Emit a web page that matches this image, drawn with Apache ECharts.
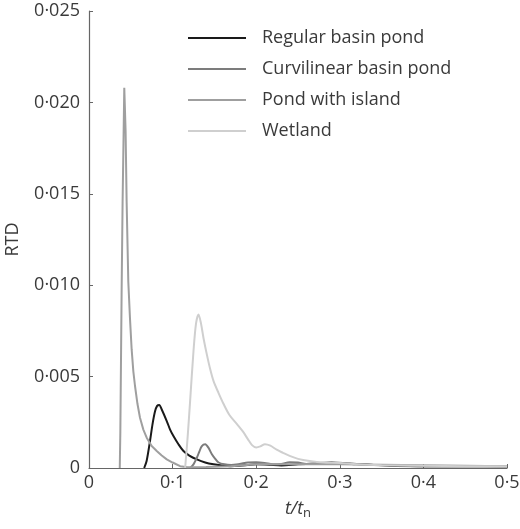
<!DOCTYPE html>
<html>
<head>
<meta charset="utf-8">
<script src="https://cdn.jsdelivr.net/npm/echarts@6/dist/echarts.min.js"></script>
<style>html,body{margin:0;padding:0;background:#fff;}#c{width:520px;height:529px;}</style>
</head>
<body>
<div id="c"></div>
<script>
var seriesNames = ['Regular basin pond', 'Curvilinear basin pond', 'Pond with island', 'Wetland'];
var xTicks = [0, 0.1, 0.2, 0.3, 0.4, 0.5];
var yTicks = [0, 0.005, 0.01, 0.015, 0.02, 0.025];

var tRegular = [0.066, 0.069, 0.073, 0.076, 0.079, 0.0815, 0.084, 0.087, 0.093, 0.097, 0.101, 0.107, 0.113, 0.12, 0.129, 0.139, 0.149, 0.159, 0.169, 0.18, 0.19, 0.2, 0.215, 0.23, 0.25, 0.27, 0.29, 0.31, 0.33, 0.36, 0.4, 0.45, 0.5];
var rtdRegular = [0, 0.0004, 0.00148, 0.0024, 0.0031, 0.0034, 0.00345, 0.0032, 0.00257, 0.0021, 0.00175, 0.0013, 0.00093, 0.00068, 0.00047, 0.0003, 0.0002, 0.00014, 0.0001, 0.00012, 0.00016, 0.0002, 0.00018, 0.00014, 0.0002, 0.00025, 0.0003, 0.00025, 0.0002, 0.00012, 0.0001, 0.0001, 0.0001];

var tCurvi = [0.121, 0.125, 0.129, 0.132, 0.135, 0.139, 0.143, 0.147, 0.151, 0.155, 0.162, 0.17, 0.18, 0.19, 0.2, 0.21, 0.22, 0.23, 0.24, 0.25, 0.26, 0.28, 0.3, 0.32, 0.35, 0.4, 0.45, 0.5];
var rtdCurvi = [0, 0.0002, 0.00056, 0.0009, 0.0012, 0.0013, 0.0011, 0.00075, 0.0005, 0.0003, 0.0002, 0.00017, 0.00022, 0.0003, 0.00032, 0.00028, 0.0002, 0.00022, 0.00032, 0.0003, 0.00022, 0.00022, 0.00028, 0.0002, 0.00015, 0.0001, 0.0001, 0.00008];

var tIsland = [0.0368, 0.0375, 0.039, 0.0402, 0.0422, 0.0438, 0.045, 0.047, 0.049, 0.051, 0.053, 0.055, 0.058, 0.061, 0.065, 0.069, 0.075, 0.081, 0.087, 0.093, 0.1, 0.109, 0.118, 0.14, 0.17, 0.2, 0.25, 0.3, 0.4, 0.5];
var rtdIsland = [0, 0.002, 0.0095, 0.0146, 0.0208, 0.0184, 0.0146, 0.0102, 0.0082, 0.0065, 0.0053, 0.0045, 0.0035, 0.00275, 0.0021, 0.00166, 0.0012, 0.00093, 0.00068, 0.00047, 0.0003, 0.0001, 0.00004, 0.00005, 0.0001, 0.0002, 0.0002, 0.0002, 0.00015, 0.0001];

var tWetland = [0.115, 0.118, 0.121, 0.125, 0.128, 0.131, 0.134, 0.137, 0.141, 0.145, 0.149, 0.155, 0.161, 0.168, 0.177, 0.184, 0.19, 0.195, 0.2, 0.205, 0.2105, 0.217, 0.2245, 0.232, 0.24, 0.25, 0.264, 0.28, 0.3, 0.32, 0.35, 0.4, 0.45, 0.5];
var rtdWetland = [0, 0.0017, 0.0037, 0.0064, 0.0079, 0.0084, 0.0079, 0.0071, 0.0062, 0.0054, 0.00475, 0.0041, 0.0035, 0.0029, 0.0024, 0.002, 0.00158, 0.00125, 0.00112, 0.00118, 0.0013, 0.00122, 0.001, 0.00083, 0.00066, 0.0005, 0.00038, 0.0003, 0.00028, 0.0002, 0.00015, 0.00012, 0.0001, 0.0001];

var colors = ['#1a1a1a', '#7c7c7c', '#9f9f9f', '#cfcfcf'];

function zip(t, v) { return t.map(function (x, i) { return [x, v[i]]; }); }
var seriesT = [tRegular, tCurvi, tIsland, tWetland];
var seriesV = [rtdRegular, rtdCurvi, rtdIsland, rtdWetland];

var FONT = '"Open Sans", "Noto Sans", sans-serif';
var FS = 18;
var TXT = '#3a3a3a';
var chart = echarts.init(document.getElementById('c'));
chart.setOption({
  animation: false,
  backgroundColor: '#fff',
  color: colors,
  grid: { left: 89, right: 13, top: 11, bottom: 61, containLabel: false, outerBoundsMode: 'none' },
  legend: {
    orient: 'vertical',
    left: 183, top: 23,
    itemWidth: 58, itemHeight: 2,
    itemGap: 11,
    icon: 'rect',
    textStyle: { fontFamily: FONT, fontSize: FS, color: TXT, lineHeight: 20, padding: [0, 0, 0, 11] },
    data: seriesNames
  },
  xAxis: {
    type: 'value', min: xTicks[0], max: xTicks[xTicks.length - 1], interval: 0.1,
    name: '{i|t/t}{s|n}', nameLocation: 'middle', nameGap: 30,
    nameTextStyle: {
      rich: {
        i: { fontFamily: FONT, fontSize: FS, fontStyle: 'italic', color: TXT },
        s: { fontFamily: FONT, fontSize: 13, color: TXT, padding: [9, 0, 0, 0] }
      }
    },
    axisLine: { lineStyle: { color: '#666', width: 1.2 } },
    axisTick: { inside: true, length: 4, lineStyle: { color: '#666' } },
    axisLabel: { fontFamily: FONT, fontSize: FS, color: TXT, margin: 6,
      formatter: function (v) { return v === 0 ? '0' : v.toFixed(1).replace('.', '\u00b7'); } },
    splitLine: { show: false }
  },
  yAxis: {
    type: 'value', min: yTicks[0], max: yTicks[yTicks.length - 1], interval: 0.005,
    name: 'RTD', nameLocation: 'middle', nameGap: 67,
    nameTextStyle: { fontFamily: FONT, fontSize: FS, color: TXT },
    axisLine: { show: true, lineStyle: { color: '#666', width: 1.2 } },
    axisTick: { show: true, inside: true, length: 4, lineStyle: { color: '#666' } },
    axisLabel: { fontFamily: FONT, fontSize: FS, color: TXT, margin: 9,
      formatter: function (v) { return v === 0 ? '0' : v.toFixed(3).replace('.', '\u00b7'); } },
    splitLine: { show: false }
  },
  series: seriesNames.map(function (n, i) {
    return {
      name: n, type: 'line', data: zip(seriesT[i], seriesV[i]),
      showSymbol: false, symbol: 'none',
      smooth: i === 2 ? false : 0.3,
      lineStyle: { width: 2, color: colors[i] },
      itemStyle: { color: colors[i] }
    };
  })
});
</script>
</body>
</html>
